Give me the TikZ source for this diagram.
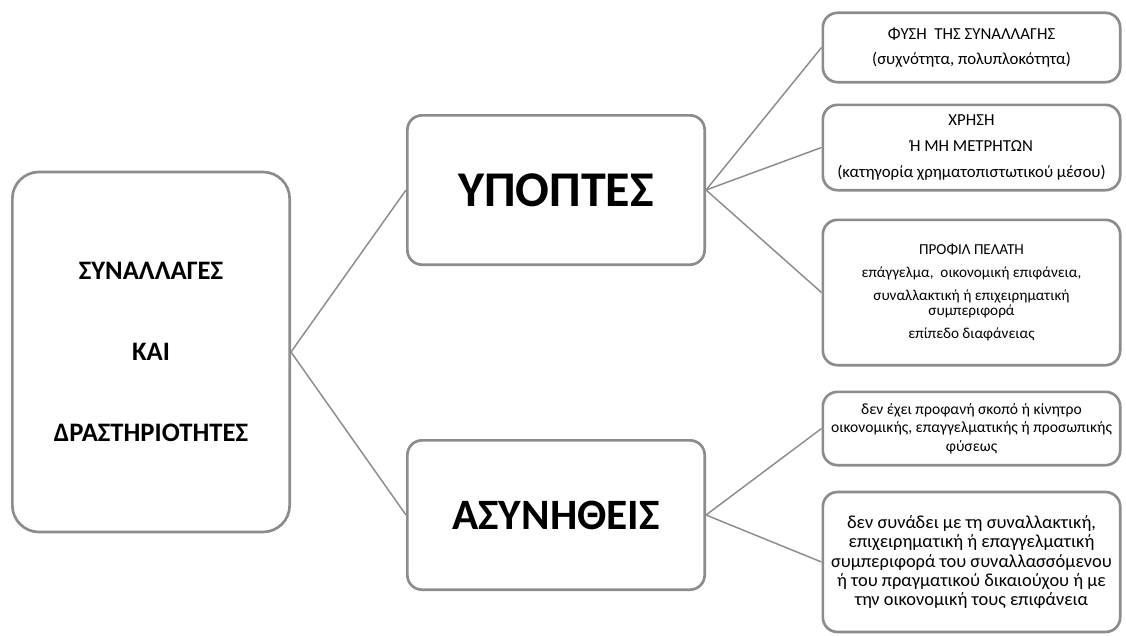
\documentclass[tikz,border=0pt]{standalone}
\usepackage{fontspec}
\setmainfont{Carlito}
\definecolor{linegray}{HTML}{8C8C8C}

\begin{document}
\begin{tikzpicture}[x=0.75pt,y=-0.75pt,
    box/.style={draw=linegray,line width=2pt,fill=white,align=center,inner sep=0pt},
    rootbox/.style={box,rounded corners=20pt,minimum width=208pt,minimum height=270pt,
      font=\fontsize{20}{24}\selectfont\bfseries},
    midbox/.style={box,rounded corners=11pt,minimum width=223pt,minimum height=112pt},
    leafbox/.style={box,rounded corners=11pt,minimum width=223pt,
      font=\fontsize{12.6}{12}\selectfont},
    conn/.style={draw=linegray,line width=1.1pt}]
    \useasboundingbox (0,0) rectangle (1126,635);

    % left and middle column
    \node[rootbox] (root) at (151,352) {ΣΥΝΑΛΛΑΓΕΣ\\[37pt]ΚΑΙ\\[37pt]ΔΡΑΣΤΗΡΙΟΤΗΤΕΣ};

    \node[midbox,font=\fontsize{37.5}{40}\selectfont\bfseries] (susp) at (556,190) {ΥΠΟΠΤΕΣ};
    \node[midbox,font=\fontsize{32.5}{40}\selectfont\bfseries] (unus) at (556,515) {ΑΣΥΝΗΘΕΙΣ};

    % right column
    \node[leafbox,minimum height=52pt] (nature) at (971.5,47.5)
        {ΦΥΣΗ\ \ ΤΗΣ ΣΥΝΑΛΛΑΓΗΣ\\[7pt](συχνότητα, πολυπλοκότητα)};
    \node[leafbox,minimum height=64pt] (cash) at (971.5,147.5)
        {ΧΡΗΣΗ\\[7.5pt]Ή ΜΗ ΜΕΤΡΗΤΩΝ\\[7.5pt](κατηγορία χρηματοπιστωτικού μέσου)};
    \node[leafbox,minimum height=109pt,font=\fontsize{11.4}{11.25}\selectfont] (profile) at (971.5,292.5)
        {ΠΡΟΦΙΛ ΠΕΛΑΤΗ\\[6pt]επάγγελμα,\ \ οικονομική επιφάνεια,\\[6pt]συναλλακτική ή επιχειρηματική\\συμπεριφορά\\[6pt]επίπεδο διαφάνειας};
    \node[leafbox,minimum height=55pt,font=\fontsize{11.7}{13.9}\selectfont] (motive) at (971.5,428.5)
        {δεν έχει προφανή σκοπό ή κίνητρο\\οικονομικής, επαγγελματικής ή προσωπικής\\φύσεως};
    \node[leafbox,minimum height=105pt,font=\fontsize{13.8}{14.3}\selectfont] (behav) at (971.5,562)
        {δεν συνάδει με τη συναλλακτική,\\επιχειρηματική ή επαγγελματική\\συμπεριφορά του συναλλασσόμενου\\ή του πραγματικού δικαιούχου ή με\\την οικονομική τους επιφάνεια};

    % connectors
    \draw[conn] (root.east) -- (susp.west);
    \draw[conn] (root.east) -- (unus.west);
    \draw[conn] (susp.east) -- (nature.west);
    \draw[conn] (susp.east) -- (cash.west);
    \draw[conn] (susp.east) -- (profile.west);
    \draw[conn] (unus.east) -- (motive.west);
    \draw[conn] (unus.east) -- (behav.west);
\end{tikzpicture}
\end{document}
